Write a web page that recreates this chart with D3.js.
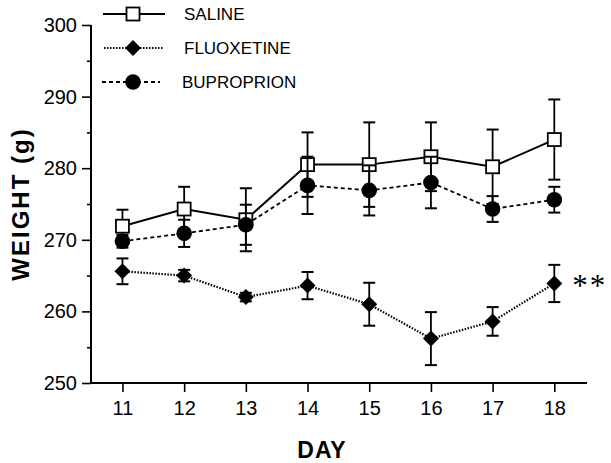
<!DOCTYPE html>
<html><head><meta charset="utf-8">
<script src="https://cdn.jsdelivr.net/npm/d3@7"></script>
<style>body{margin:0;background:#fff}svg{display:block}</style>
</head><body>
<svg id="c" width="611" height="463"></svg>
<script>
const days = [11,12,13,14,15,16,17,18];
const salineMean = [271.9,274.3,272.8,280.5,280.5,281.6,280.2,284.0];
const salineSE   = [2.3,3.1,4.4,4.5,5.9,4.8,5.2,5.6];
const fluoxMean  = [265.6,265.0,262.0,263.6,261.0,256.2,258.6,263.9];
const fluoxSE    = [1.8,0.8,0.6,1.9,3.0,3.7,2.0,2.6];
const bupMean    = [269.8,270.9,272.1,277.6,276.9,278.0,274.3,275.6];
const bupSE      = [0.9,1.9,2.8,4.0,3.5,3.6,1.8,1.8];
const yTicks = [250,260,270,280,290,300];
const yMinor = [255,265,275,285,295];
const legendLabels = ["SALINE","FLUOXETINE","BUPROPRION"];

const svg = d3.select("#c");
const x = d3.scaleLinear().domain([10.49,18.53]).range([91,587]);
const y = d3.scaleLinear().domain([250,300]).range([383,25]);
const font = "'Liberation Sans', Arial, sans-serif";

// axes
const yAxis = d3.axisLeft(y).tickValues(yTicks).tickSize(9).tickPadding(5).tickFormat(d3.format("d"));
const gy = svg.append("g").attr("transform","translate(91,0)").call(yAxis);
gy.select(".domain").attr("stroke-width",2).attr("d","M0,25V383");
gy.selectAll(".tick line").attr("stroke-width",1.6);
gy.selectAll("text").attr("font-family",font).attr("font-size",20).attr("fill","#000");
const gym = svg.append("g").attr("transform","translate(91,0)")
  .call(d3.axisLeft(y).tickValues(yMinor).tickSize(4).tickFormat(""));
gym.select(".domain").remove();
gym.selectAll(".tick line").attr("stroke-width",1.6);

const xAxis = d3.axisBottom(x).tickValues(days).tickSize(9).tickPadding(9).tickFormat(d3.format("d"));
const gx = svg.append("g").attr("transform","translate(0,383)").call(xAxis);
gx.select(".domain").attr("stroke-width",2).attr("d","M91,0H587");
gx.selectAll(".tick line").attr("stroke-width",1.6);
gx.selectAll("text").attr("font-family",font).attr("font-size",20).attr("fill","#000");

svg.append("text").attr("transform","translate(29,204) rotate(-90)")
  .attr("text-anchor","middle").attr("font-family",font).attr("font-weight","bold")
  .attr("font-size",24).attr("letter-spacing",2).text("WEIGHT (g)");
svg.append("text").attr("x",322).attr("y",458).attr("text-anchor","middle")
  .attr("font-family",font).attr("font-weight","bold").attr("font-size",23).attr("letter-spacing",1).text("DAY");

const series = [
  {name:legendLabels[0], mean:salineMean, se:salineSE, dash:null, marker:"square"},
  {name:legendLabels[2], mean:bupMean, se:bupSE, dash:"4,3", marker:"circle"},
  {name:legendLabels[1], mean:fluoxMean, se:fluoxSE, dash:"1.5,1.5", marker:"diamond"}
];

function drawMarker(g, type, cx, cy){
  if(type==="square") g.append("rect").attr("x",cx-6.5).attr("y",cy-6.5).attr("width",13).attr("height",13)
      .attr("fill","#fff").attr("stroke","#000").attr("stroke-width",1.8);
  else if(type==="circle") g.append("circle").attr("cx",cx).attr("cy",cy).attr("r",7.8).attr("fill","#000");
  else g.append("path").attr("d",`M${cx},${cy-8}L${cx+8},${cy}L${cx},${cy+8}L${cx-8},${cy}Z`).attr("fill","#000");
}

const line = d3.line();
series.forEach(s=>{
  const g = svg.append("g");
  days.forEach((d,i)=>{
    const cx = x(d), lo = y(s.mean[i]-s.se[i]), hi = y(s.mean[i]+s.se[i]);
    g.append("line").attr("x1",cx).attr("x2",cx).attr("y1",lo).attr("y2",hi).attr("stroke","#000").attr("stroke-width",1.8);
    [lo,hi].forEach(yy=>g.append("line").attr("x1",cx-6).attr("x2",cx+6).attr("y1",yy).attr("y2",yy).attr("stroke","#000").attr("stroke-width",2));
  });
  g.append("path").attr("d",line(days.map((d,i)=>[x(d),y(s.mean[i])])))
    .attr("fill","none").attr("stroke","#000").attr("stroke-width",s.dash? (s.marker==="diamond"?2.2:1.8):2)
    .attr("stroke-dasharray",s.dash);
  days.forEach((d,i)=>drawMarker(g,s.marker,x(d),y(s.mean[i])));
});

// legend
const legend = [
  {label:legendLabels[0], dash:null, marker:"square", ly:14, x1:103, x2:165, tx:184},
  {label:legendLabels[1], dash:"1.5,1.5", marker:"diamond", ly:48, x1:104, x2:164, tx:184},
  {label:legendLabels[2], dash:"4,3", marker:"circle", ly:82, x1:102, x2:160, tx:182}
];
legend.forEach(l=>{
  const g = svg.append("g");
  g.append("line").attr("x1",l.x1).attr("x2",l.x2).attr("y1",l.ly).attr("y2",l.ly)
    .attr("stroke","#000").attr("stroke-width",l.dash?1.8:2).attr("stroke-dasharray",l.dash);
  drawMarker(g,l.marker,133,l.ly);
  g.append("text").attr("x",l.tx).attr("y",l.ly+6).attr("font-family",font).attr("font-size",17).text(l.label);
});

svg.append("text").attr("x",x(18)+18).attr("y",y(263.9)+13).attr("font-family","'Liberation Serif', 'Times New Roman', serif")
  .attr("font-size",31).attr("letter-spacing",2).text("**");
</script>
</body></html>
